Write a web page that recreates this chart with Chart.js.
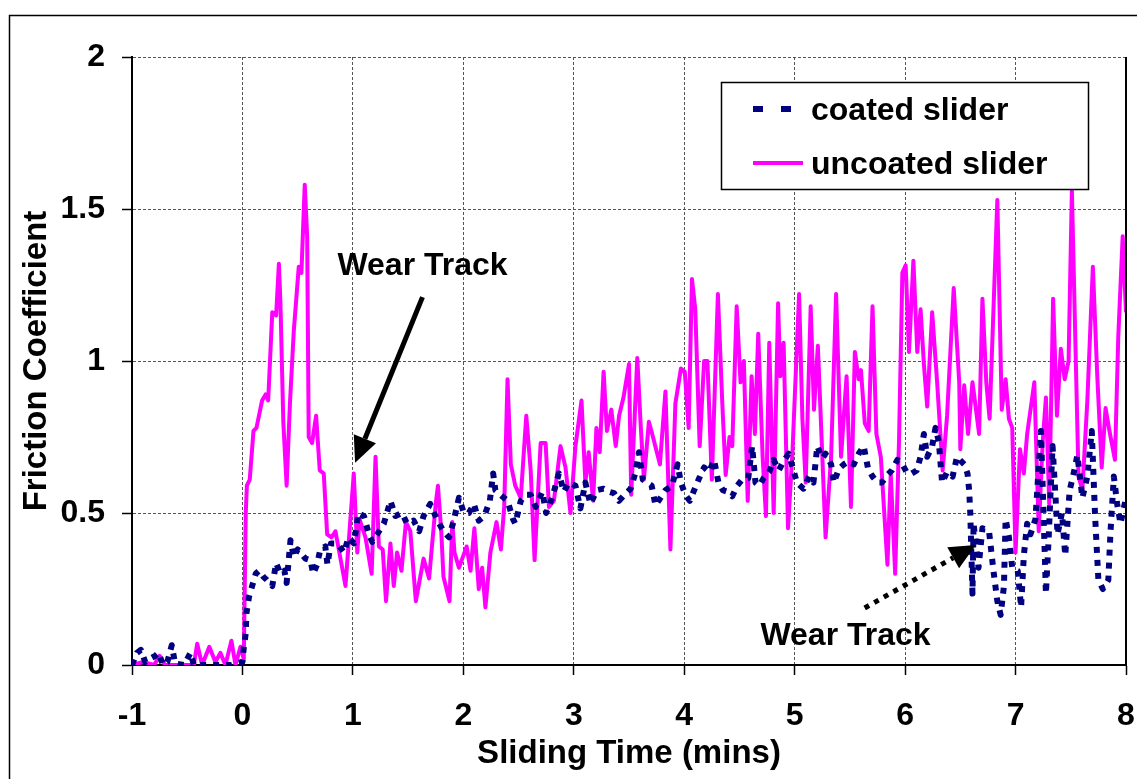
<!DOCTYPE html>
<html>
<head>
<meta charset="utf-8">
<script src="https://cdn.jsdelivr.net/npm/chart.js@4"></script>
<style>
  html, body { margin: 0; padding: 0; background: #fff; overflow: hidden; }
  #wrap { width: 1137px; height: 779px; position: relative; }
  #frictionChart { display: block; }
</style>
</head>
<body>
<div id="wrap"><canvas id="frictionChart"></canvas></div>
<script>
// x ticks (mins) and y ticks (friction coefficient)
const xTickValues = [-1, 0, 1, 2, 3, 4, 5, 6, 7, 8];
const yTickValues = [0, 0.5, 1, 1.5, 2];

const seriesLabels = ['coated slider', 'uncoated slider'];

// uncoated slider
const uncoatedTime = [
  -1.00, -0.90, -0.80, -0.75, -0.70, -0.60, -0.50, -0.44, -0.41, -0.365, -0.30, -0.245, -0.20, -0.154, -0.10, -0.063, -0.018, 0.012,
  0.03, 0.04, 0.066, 0.10, 0.127, 0.178, 0.21, 0.233, 0.27, 0.305, 0.33, 0.344, 0.37, 0.40, 0.43, 0.465, 0.51, 0.534, 0.564, 0.586,
  0.60, 0.63, 0.667, 0.70, 0.736, 0.767, 0.806, 0.842, 0.933, 1.008, 1.04, 1.06, 1.114, 1.17, 1.205, 1.235, 1.27, 1.30, 1.34, 1.37,
  1.40, 1.44, 1.48, 1.52, 1.57, 1.64, 1.69, 1.75, 1.77, 1.80, 1.82, 1.875, 1.90, 1.92, 1.96, 2.00, 2.03, 2.065, 2.10, 2.14, 2.17,
  2.20, 2.245, 2.30, 2.34, 2.37, 2.40, 2.43, 2.47, 2.52, 2.57, 2.61, 2.645, 2.70, 2.745, 2.775, 2.82, 2.88, 2.925, 2.97, 3.015,
  3.07, 3.105, 3.135, 3.175, 3.205, 3.235, 3.27, 3.30, 3.34, 3.38, 3.41, 3.45, 3.50, 3.52, 3.575, 3.605, 3.635, 3.68, 3.71, 3.78,
  3.83, 3.875, 3.92, 3.97, 4.005, 4.04, 4.07, 4.10, 4.14, 4.18, 4.21, 4.25, 4.305, 4.345, 4.375, 4.41, 4.435, 4.475, 4.51, 4.54,
  4.575, 4.61, 4.64, 4.67, 4.71, 4.74, 4.77, 4.81, 4.85, 4.87, 4.90, 4.94, 4.98, 5.04, 5.07, 5.10, 5.145, 5.175, 5.21, 5.28, 5.33,
  5.375, 5.42, 5.47, 5.51, 5.545, 5.58, 5.60, 5.635, 5.67, 5.705, 5.74, 5.78, 5.84, 5.87, 5.91, 5.945, 5.975, 6.005, 6.035, 6.075,
  6.11, 6.14, 6.17, 6.20, 6.245, 6.29, 6.34, 6.38, 6.44, 6.49, 6.50, 6.535, 6.57, 6.61, 6.67, 6.70, 6.735, 6.765, 6.835, 6.875,
  6.91, 6.94, 6.97, 7.00, 7.04, 7.075, 7.105, 7.17, 7.21, 7.245, 7.275, 7.305, 7.34, 7.375, 7.41, 7.445, 7.48, 7.51, 7.57, 7.605,
  7.65, 7.70, 7.74, 7.78, 7.815, 7.85, 7.90, 7.93, 7.97, 8.00
];
const uncoatedValues = [
  0.00, 0.01, 0.00, 0.03, 0.00, 0.00, 0.00, 0.00, 0.07, 0.00, 0.06, 0.01, 0.04, 0.00, 0.08, 0.00, 0.06, 0.02,
  0.50, 0.59, 0.61, 0.77, 0.78, 0.87, 0.89, 0.87, 1.16, 1.15, 1.32, 1.19, 0.80, 0.59, 0.86, 1.10, 1.31, 1.29, 1.58, 1.41,
  0.75, 0.73, 0.82, 0.64, 0.63, 0.43, 0.42, 0.44, 0.26, 0.63, 0.37, 0.48, 0.42, 0.30, 0.685, 0.39, 0.38, 0.21, 0.40, 0.26,
  0.37, 0.31, 0.47, 0.44, 0.21, 0.35, 0.285, 0.53, 0.59, 0.44, 0.29, 0.21, 0.47, 0.37, 0.32, 0.36, 0.39, 0.31, 0.45, 0.25, 0.32,
  0.19, 0.37, 0.47, 0.38, 0.52, 0.94, 0.66, 0.59, 0.55, 0.82, 0.64, 0.345, 0.73, 0.73, 0.52, 0.54, 0.72, 0.65, 0.50, 0.72,
  0.87, 0.60, 0.70, 0.54, 0.78, 0.70, 0.965, 0.77, 0.84, 0.72, 0.82, 0.88, 0.99, 0.56, 1.01, 0.795, 0.61, 0.80, 0.76, 0.66,
  0.90, 0.38, 0.86, 0.975, 0.965, 0.78, 1.27, 1.17, 0.72, 1.00, 1.00, 0.61, 1.22, 0.86, 0.625, 0.75, 0.72, 1.18, 0.93, 1.00,
  0.54, 0.95, 0.76, 1.09, 0.685, 0.49, 1.06, 0.50, 1.19, 0.95, 1.06, 0.45, 0.70, 1.22, 0.81, 0.60, 1.18, 0.84, 1.05, 0.42, 0.685,
  1.22, 0.685, 0.95, 0.52, 1.03, 0.94, 0.97, 0.795, 0.77, 1.18, 0.76, 0.685, 0.33, 0.63, 0.30, 0.74, 1.29, 1.315, 1.03, 1.33,
  1.03, 1.17, 0.99, 0.85, 1.16, 0.93, 0.64, 0.82, 1.24, 0.93, 0.71, 0.92, 0.76, 0.93, 0.76, 1.205, 0.93, 0.81, 1.53, 0.84,
  0.94, 0.81, 0.78, 0.37, 0.71, 0.63, 0.76, 0.93, 0.44, 0.73, 0.88, 0.53, 1.205, 0.82, 1.04, 0.94, 1.00, 1.56, 0.62, 0.575,
  0.87, 1.31, 0.95, 0.65, 0.845, 0.77, 0.675, 1.08, 1.41, 1.16
];

// coated slider
const coatedTime = [
  -1.00, -0.955, -0.92, -0.88, -0.84, -0.79, -0.76, -0.72, -0.68, -0.64, -0.61, -0.53, -0.47, -0.44, -0.30, -0.10, 0.00, 0.01,
  0.03, 0.036, 0.06, 0.08, 0.12, 0.15, 0.19, 0.22, 0.27, 0.305, 0.344, 0.38, 0.40, 0.435, 0.465, 0.50, 0.525, 0.57, 0.616, 0.64,
  0.675, 0.705, 0.75, 0.77, 0.80, 0.86, 0.92, 0.96, 1.01, 1.05, 1.10, 1.145, 1.175, 1.22, 1.28, 1.34, 1.385, 1.445, 1.49, 1.55,
  1.60, 1.64, 1.70, 1.76, 1.82, 1.87, 1.91, 1.96, 2.005, 2.05, 2.095, 2.14, 2.19, 2.24, 2.27, 2.29, 2.335, 2.40, 2.45, 2.47,
  2.52, 2.565, 2.61, 2.655, 2.715, 2.75, 2.805, 2.865, 2.91, 2.955, 3.015, 3.06, 3.105, 3.15, 3.21, 3.27, 3.32, 3.365, 3.41,
  3.46, 3.515, 3.56, 3.59, 3.625, 3.665, 3.705, 3.74, 3.785, 3.83, 3.89, 3.94, 3.97, 4.01, 4.05, 4.09, 4.13, 4.18, 4.225, 4.27,
  4.31, 4.35, 4.39, 4.435, 4.48, 4.525, 4.58, 4.615, 4.645, 4.68, 4.72, 4.77, 4.81, 4.855, 4.90, 4.945, 4.99, 5.02, 5.08, 5.13,
  5.17, 5.205, 5.25, 5.28, 5.33, 5.355, 5.40, 5.445, 5.49, 5.535, 5.58, 5.625, 5.665, 5.705, 5.75, 5.79, 5.84, 5.88, 5.93,
  5.975, 6.02, 6.06, 6.105, 6.14, 6.17, 6.20, 6.245, 6.275, 6.305, 6.335, 6.38, 6.43, 6.47, 6.535, 6.565, 6.58, 6.59, 6.61,
  6.62, 6.665, 6.70, 6.76, 6.80, 6.835, 6.865, 6.895, 6.91, 6.94, 6.97, 7.02, 7.05, 7.075, 7.105, 7.135, 7.18, 7.23, 7.26,
  7.275, 7.30, 7.335, 7.36, 7.38, 7.42, 7.45, 7.49, 7.52, 7.56, 7.605, 7.65, 7.69, 7.72, 7.75, 7.79, 7.84, 7.86, 7.89, 7.92,
  7.95, 8.00
];
const coatedValues = [
  0.00, 0.04, 0.05, 0.01, 0.02, 0.03, 0.04, 0.00, 0.01, 0.065, 0.005, 0.00, 0.04, 0.00, 0.00, 0.00, 0.01, 0.05,
  0.105, 0.17, 0.225, 0.25, 0.30, 0.31, 0.29, 0.28, 0.26, 0.335, 0.30, 0.31, 0.27, 0.41, 0.355, 0.38, 0.37, 0.35, 0.345, 0.30,
  0.33, 0.38, 0.39, 0.33, 0.40, 0.40, 0.37, 0.42, 0.40, 0.50, 0.49, 0.43, 0.405, 0.43, 0.465, 0.54, 0.49, 0.50, 0.465, 0.475,
  0.44, 0.49, 0.53, 0.48, 0.44, 0.42, 0.47, 0.55, 0.50, 0.50, 0.53, 0.475, 0.49, 0.54, 0.63, 0.575, 0.56, 0.54, 0.48, 0.465,
  0.54, 0.56, 0.56, 0.52, 0.57, 0.50, 0.55, 0.63, 0.57, 0.60, 0.59, 0.515, 0.60, 0.53, 0.575, 0.58, 0.57, 0.565, 0.54,
  0.56, 0.58, 0.635, 0.70, 0.61, 0.60, 0.59, 0.525, 0.55, 0.575, 0.59, 0.66, 0.60, 0.56, 0.54, 0.575, 0.61, 0.65, 0.635, 0.675,
  0.60, 0.575, 0.57, 0.555, 0.59, 0.61, 0.615, 0.72, 0.60, 0.59, 0.615, 0.635, 0.675, 0.64, 0.67, 0.695, 0.64, 0.60, 0.58, 0.62,
  0.60, 0.72, 0.68, 0.695, 0.66, 0.60, 0.645, 0.66, 0.67, 0.66, 0.695, 0.72, 0.645, 0.62, 0.60, 0.60, 0.625, 0.64, 0.675,
  0.66, 0.63, 0.63, 0.64, 0.685, 0.76, 0.685, 0.72, 0.78, 0.735, 0.60, 0.635, 0.62, 0.685, 0.66, 0.63, 0.575, 0.50, 0.235,
  0.465, 0.32, 0.45, 0.44, 0.31, 0.21, 0.165, 0.26, 0.48, 0.42, 0.32, 0.31, 0.19, 0.36, 0.465, 0.43, 0.48, 0.77, 0.42,
  0.235, 0.42, 0.72, 0.565, 0.43, 0.50, 0.36, 0.575, 0.62, 0.69, 0.55, 0.62, 0.77, 0.49, 0.28, 0.25, 0.28, 0.44, 0.62, 0.53,
  0.465, 0.55
];

const FONT = 'Liberation Sans, Arial, sans-serif';
const NAVY = '#000080';
const MAGENTA = '#ff00ff';

const toPoints = (times, values) => times.map((t, i) => ({ x: t, y: values[i] }));

function drawArrow(ctx, x1, y1, x2, y2, dash) {
    const ang = Math.atan2(y2 - y1, x2 - x1);
    const headLen = 26, headHalf = 12;
    const bx = x2 - headLen * Math.cos(ang);
    const by = y2 - headLen * Math.sin(ang);
    ctx.save();
    ctx.strokeStyle = '#000';
    ctx.fillStyle = '#000';
    ctx.lineWidth = 5;
    ctx.setLineDash(dash);
    ctx.beginPath();
    ctx.moveTo(x1, y1);
    ctx.lineTo(bx, by);
    ctx.stroke();
    ctx.setLineDash([]);
    ctx.beginPath();
    ctx.moveTo(x2, y2);
    ctx.lineTo(bx + headHalf * Math.sin(ang), by - headHalf * Math.cos(ang));
    ctx.lineTo(bx - headHalf * Math.sin(ang), by + headHalf * Math.cos(ang));
    ctx.closePath();
    ctx.fill();
    ctx.restore();
}

// frame, right plot edge, "Wear Track" notes and the boxed legend
const extrasPlugin = {
    id: 'extras',
    afterDatasetsDraw(chart) {
        const { ctx, chartArea, scales: { x, y } } = chart;
        ctx.save();

        ctx.strokeStyle = '#000';
        ctx.lineWidth = 1.5;
        ctx.strokeRect(9.5, 15.5, 1300, 900);

        ctx.lineWidth = 2;
        ctx.beginPath();
        ctx.moveTo(x.getPixelForValue(8), chartArea.top);
        ctx.lineTo(x.getPixelForValue(8), chartArea.bottom);
        ctx.stroke();

        ctx.fillStyle = '#000';
        ctx.font = 'bold 32px ' + FONT;
        ctx.textAlign = 'left';
        ctx.textBaseline = 'alphabetic';
        ctx.fillText('Wear Track', x.getPixelForValue(0.86), y.getPixelForValue(1.283));
        ctx.fillText('Wear Track', x.getPixelForValue(4.69), y.getPixelForValue(0.066));

        drawArrow(ctx, x.getPixelForValue(1.63), y.getPixelForValue(1.21),
            x.getPixelForValue(1.02), y.getPixelForValue(0.665), []);
        drawArrow(ctx, x.getPixelForValue(5.634), y.getPixelForValue(0.1875),
            x.getPixelForValue(6.64), y.getPixelForValue(0.395), [5, 6]);

        // legend
        const lx = 721, ly = 82, lw = 367, lh = 107;
        ctx.fillStyle = '#fff';
        ctx.fillRect(lx, ly, lw, lh);
        ctx.lineWidth = 1.5;
        ctx.strokeStyle = '#000';
        ctx.strokeRect(lx + 0.5, ly + 0.5, lw, lh);

        ctx.lineWidth = 6;
        ctx.strokeStyle = NAVY;
        ctx.setLineDash([10, 18]);
        ctx.beginPath();
        ctx.moveTo(753, 109);
        ctx.lineTo(793, 109);
        ctx.stroke();

        ctx.setLineDash([]);
        ctx.lineWidth = 4;
        ctx.strokeStyle = MAGENTA;
        ctx.beginPath();
        ctx.moveTo(753, 163);
        ctx.lineTo(803, 163);
        ctx.stroke();

        ctx.fillStyle = '#000';
        ctx.textBaseline = 'middle';
        ctx.fillText(seriesLabels[0], 811, 111);
        ctx.fillText(seriesLabels[1], 811, 165);
        ctx.restore();
    }
};

const tickFont = { family: FONT, size: 32, weight: 'bold' };

new Chart(document.getElementById('frictionChart'), {
    type: 'line',
    data: {
        datasets: [
            {
                label: seriesLabels[0],
                data: toPoints(coatedTime, coatedValues),
                borderColor: NAVY,
                borderWidth: 6,
                borderDash: [6, 7],
                borderJoinStyle: 'round',
                pointRadius: 0,
                tension: 0
            },
            {
                label: seriesLabels[1],
                data: toPoints(uncoatedTime, uncoatedValues),
                borderColor: MAGENTA,
                borderWidth: 4,
                borderJoinStyle: 'round',
                pointRadius: 0,
                tension: 0
            }
        ]
    },
    options: {
        responsive: true,
        maintainAspectRatio: false,
        animation: false,
        layout: { padding: { top: 57, right: 11, left: 0, bottom: 0 } },
        plugins: {
            legend: { display: false },
            tooltip: { enabled: false }
        },
        scales: {
            x: {
                type: 'linear',
                min: -1,
                max: 8,
                afterBuildTicks: axis => { axis.ticks = xTickValues.map(v => ({ value: v })); },
                afterFit: s => {
                    s.height = 114;
                    // end labels may overhang; don't let them shrink the plot
                    s.paddingLeft = 0;
                    s.paddingRight = 0;
                },
                ticks: { color: '#000', font: tickFont, padding: 22, maxRotation: 0, callback: v => String(v) },
                grid: { color: '#555', lineWidth: 1, tickLength: 10, tickColor: '#000', tickWidth: 1.5 },
                border: { color: '#000', width: 2, dash: [3, 2] },
                title: {
                    display: true,
                    text: 'Sliding Time (mins)',
                    color: '#000',
                    font: { family: FONT, size: 33, weight: 'bold' },
                    padding: { top: 0, bottom: 5 }
                }
            },
            y: {
                min: 0,
                max: 2,
                afterBuildTicks: axis => { axis.ticks = yTickValues.map(v => ({ value: v })); },
                afterFit: s => { s.width = 132; },
                ticks: { color: '#000', font: tickFont, padding: 17, callback: v => String(v) },
                grid: { color: '#555', lineWidth: 1, tickLength: 10, tickColor: '#000', tickWidth: 1.5 },
                border: { color: '#000', width: 2, dash: [3, 2] },
                title: {
                    display: true,
                    text: 'Friction Coefficient',
                    color: '#000',
                    font: { family: FONT, size: 33, weight: 'bold' },
                    padding: { top: 17, bottom: 0 }
                }
            }
        }
    },
    plugins: [extrasPlugin]
});
</script>
</body>
</html>
